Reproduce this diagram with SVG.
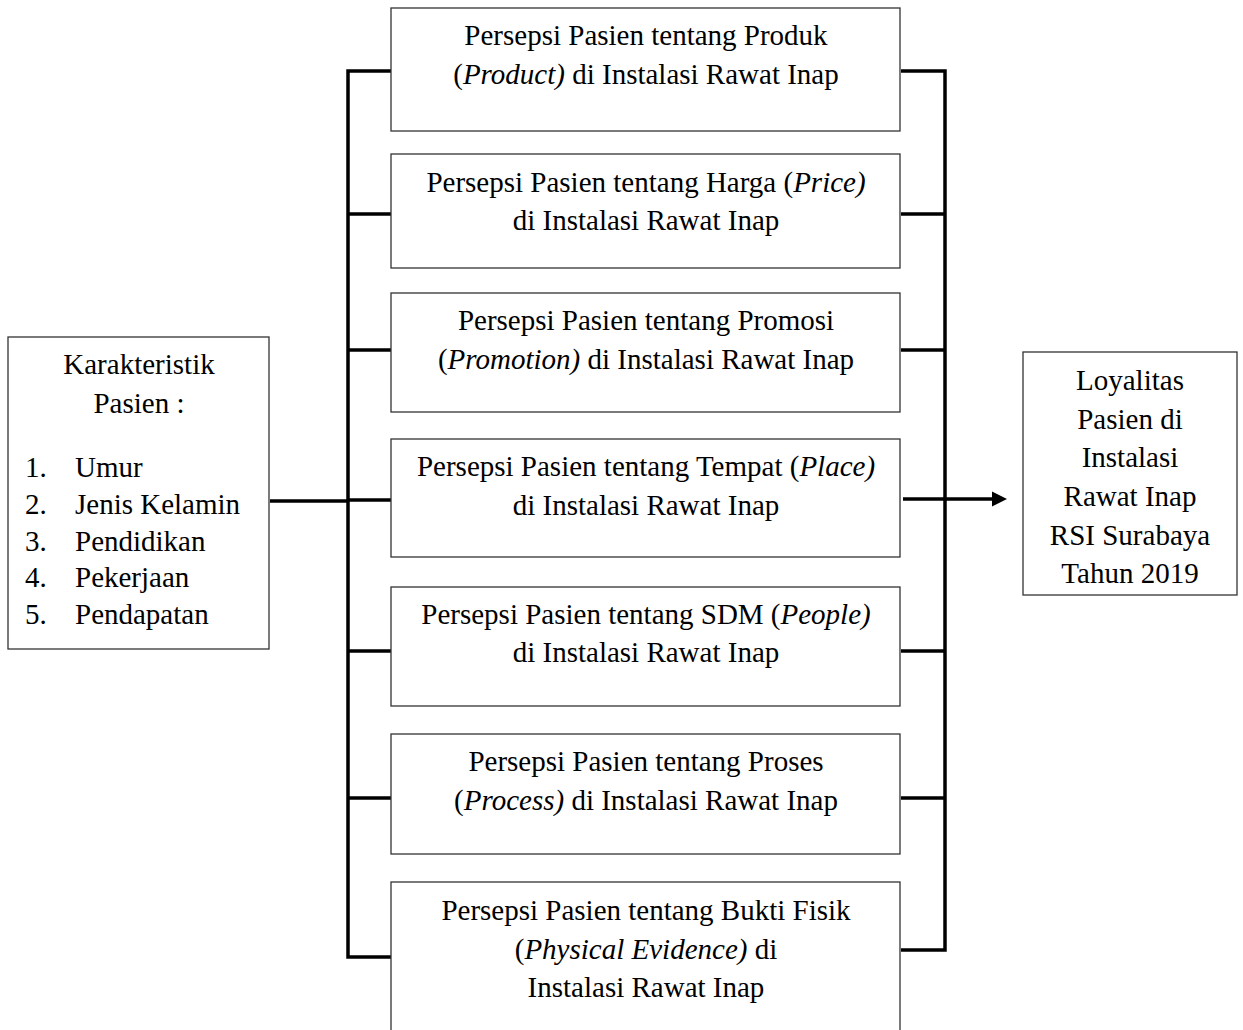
<svg xmlns="http://www.w3.org/2000/svg" width="1243" height="1030" viewBox="0 0 1243 1030">
<style>
  .box { fill: #ffffff; stroke: #333333; stroke-width: 1.3; }
  .t { font-family: "Liberation Serif", "Times New Roman", serif; font-size: 29px; fill: #000000; }
  .c { text-anchor: middle; }
  .i { font-style: italic; }
  .ln { stroke: #000000; stroke-width: 3.5; fill: none; }
  .head { fill: #000000; }
</style>

<g id="connectors">
  <line class="ln" x1="270" y1="501" x2="348" y2="501"/>
  <polyline class="ln" points="392,71 348,71 348,957 392,957"/>
  <line class="ln" x1="348" y1="214" x2="392" y2="214"/>
  <line class="ln" x1="348" y1="350" x2="392" y2="350"/>
  <line class="ln" x1="348" y1="500" x2="392" y2="500"/>
  <line class="ln" x1="348" y1="651" x2="392" y2="651"/>
  <line class="ln" x1="348" y1="798" x2="392" y2="798"/>
  <polyline class="ln" points="901,71 945,71 945,950 901,950"/>
  <line class="ln" x1="901" y1="214" x2="945" y2="214"/>
  <line class="ln" x1="901" y1="350" x2="945" y2="350"/>
  <line class="ln" x1="901" y1="651" x2="945" y2="651"/>
  <line class="ln" x1="901" y1="798" x2="945" y2="798"/>
  <line class="ln" x1="903" y1="499" x2="994" y2="499"/>
  <polygon class="head" points="992,491.5 1007,499 992,506.5"/>
</g>

<g id="karakteristik">
  <rect class="box" x="8" y="337" width="261" height="312"/>
  <text class="t c" x="139" y="374">Karakteristik</text>
  <text class="t c" x="139" y="413">Pasien :</text>
  <text class="t" x="25" y="477">1.</text><text class="t" x="75" y="477">Umur</text>
  <text class="t" x="25" y="514">2.</text><text class="t" x="75" y="514">Jenis Kelamin</text>
  <text class="t" x="25" y="551">3.</text><text class="t" x="75" y="551">Pendidikan</text>
  <text class="t" x="25" y="587">4.</text><text class="t" x="75" y="587">Pekerjaan</text>
  <text class="t" x="25" y="624">5.</text><text class="t" x="75" y="624">Pendapatan</text>
</g>

<g id="produk">
  <rect class="box" x="391" y="8" width="509" height="123"/>
  <text class="t c" x="646" y="45">Persepsi Pasien tentang Produk</text>
  <text class="t c" x="646" y="84">(<tspan class="i">Product)</tspan> di Instalasi Rawat Inap</text>
</g>

<g id="harga">
  <rect class="box" x="391" y="154" width="509" height="114"/>
  <text class="t c" x="646" y="192">Persepsi Pasien tentang Harga (<tspan class="i">Price)</tspan></text>
  <text class="t c" x="646" y="230">di Instalasi Rawat Inap</text>
</g>

<g id="promosi">
  <rect class="box" x="391" y="293" width="509" height="119"/>
  <text class="t c" x="646" y="330">Persepsi Pasien tentang Promosi</text>
  <text class="t c" x="646" y="369">(<tspan class="i">Promotion)</tspan> di Instalasi Rawat Inap</text>
</g>

<g id="tempat">
  <rect class="box" x="391" y="439" width="509" height="118"/>
  <text class="t c" x="646" y="476">Persepsi Pasien tentang Tempat (<tspan class="i">Place)</tspan></text>
  <text class="t c" x="646" y="515">di Instalasi Rawat Inap</text>
</g>

<g id="sdm">
  <rect class="box" x="391" y="587" width="509" height="119"/>
  <text class="t c" x="646" y="624">Persepsi Pasien tentang SDM (<tspan class="i">People)</tspan></text>
  <text class="t c" x="646" y="662">di Instalasi Rawat Inap</text>
</g>

<g id="proses">
  <rect class="box" x="391" y="734" width="509" height="120"/>
  <text class="t c" x="646" y="771">Persepsi Pasien tentang Proses</text>
  <text class="t c" x="646" y="810">(<tspan class="i">Process)</tspan> di Instalasi Rawat Inap</text>
</g>

<g id="bukti-fisik">
  <rect class="box" x="391" y="882" width="509" height="160"/>
  <text class="t c" x="646" y="920">Persepsi Pasien tentang Bukti Fisik</text>
  <text class="t c" x="646" y="959">(<tspan class="i">Physical Evidence)</tspan> di</text>
  <text class="t c" x="646" y="997">Instalasi Rawat Inap</text>
</g>

<g id="loyalitas">
  <rect class="box" x="1023" y="352" width="214" height="243"/>
  <text class="t c" x="1130" y="390">Loyalitas</text>
  <text class="t c" x="1130" y="429">Pasien di</text>
  <text class="t c" x="1130" y="467">Instalasi</text>
  <text class="t c" x="1130" y="506">Rawat Inap</text>
  <text class="t c" x="1130" y="545">RSI Surabaya</text>
  <text class="t c" x="1130" y="583">Tahun 2019</text>
</g>
</svg>
